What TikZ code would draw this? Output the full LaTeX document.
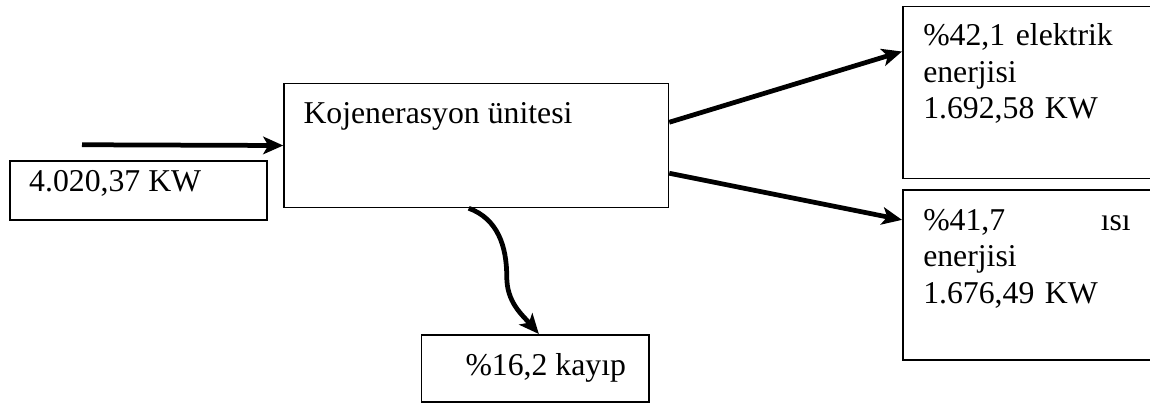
\documentclass[tikz,border=0pt]{standalone}
\usepackage{fontspec}
\setmainfont{Liberation Serif}
\usetikzlibrary{arrows.meta,positioning}

\begin{document}
\begin{tikzpicture}[x=1pt,y=1pt,
		box/.style={draw, line width=0.6pt, inner sep=0pt, anchor=north west},
		boxtext/.style={inner sep=0pt, font=\fontsize{12.7pt}{14.6pt}\selectfont, align=left},
		flow/.style={line width=1.9pt, -{Stealth[length=8pt,width=7pt,inset=2pt]}}]
			\useasboundingbox (0,0) rectangle (460,-161.2);
			% boxes
			\node[box, minimum width=102.8pt, minimum height=23.6pt] (input) at (3.6,-64) {};
			\node[boxtext, below right=4.1pt and 7.9pt of input.north west] (inputtext) {4.020,37 KW};
			\node[box, minimum width=153.8pt, minimum height=49.6pt] (unit) at (113.3,-33.1) {};
			\node[boxtext, below right=7.5pt and 7.9pt of unit.north west] (unittext) {Kojenerasyon ünitesi};
			\node[box, minimum width=103pt, minimum height=68.8pt] (elec) at (360.8,-2.3) {};
			\node[boxtext, text width=83pt, below right=7pt and 8.3pt of elec.north west] (electext) {\%42,1 elektrik\\enerjisi\\1.692,58 KW};
			\node[box, minimum width=103pt, minimum height=67.9pt] (heat) at (360.8,-75.7) {};
			\node[boxtext, text width=83pt, below right=7.7pt and 8.3pt of heat.north west] (heattext) {\%41,7\hfill ısı\\enerjisi\\1.676,49 KW};
			\node[box, minimum width=90.9pt, minimum height=26.9pt] (loss) at (168.3,-133.6) {};
			\node[boxtext, below right=7.7pt and 17.7pt of loss.north west] (losstext) {\%16,2 kayıp};
			% arrows
			\coordinate (inflow) at (32.8,-57.9);
			\coordinate (bend) at (202.7,-110.7);
			\draw[flow] (inflow) -- (unit.west);
			\draw[flow] ([yshift=9.3pt]unit.east) -- ([yshift=16.4pt]elec.west);
			\draw[flow] ([yshift=-11.1pt]unit.east) -- ([yshift=22pt]heat.west);
			\draw[flow] ([xshift=-3pt]unit.south) to[out=-20,in=90] (bend) to[out=-90,in=131] ([xshift=1.5pt]loss.north);
\end{tikzpicture}
\end{document}
